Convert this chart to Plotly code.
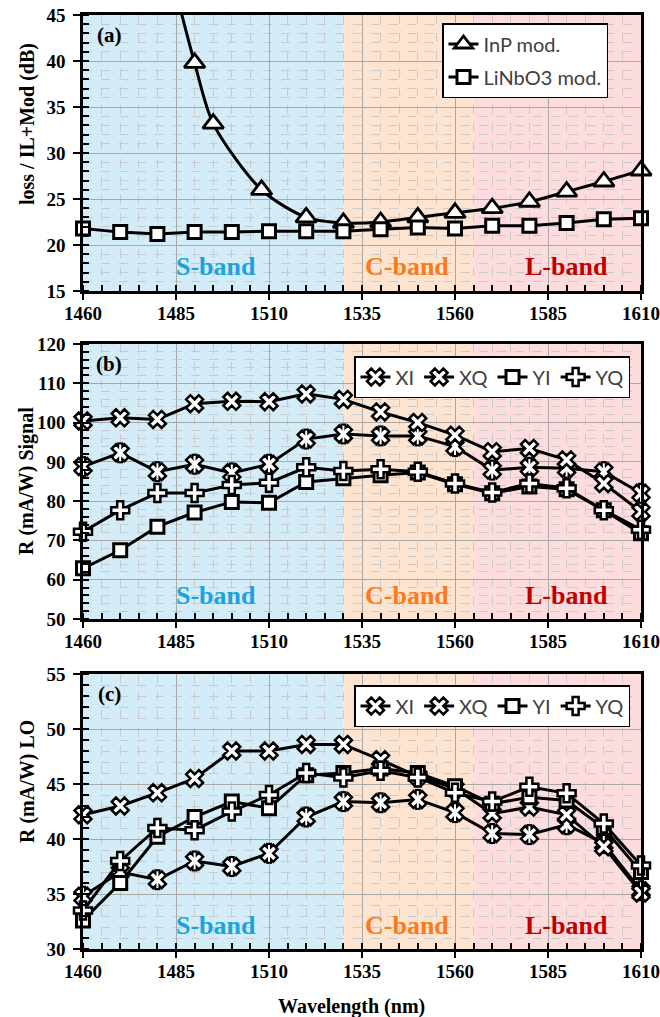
import plotly.graph_objects as go

# ---------------- data ----------------
wl = [1460, 1470, 1480, 1490, 1500, 1510, 1520, 1530, 1540, 1550, 1560, 1570, 1580, 1590, 1600, 1610]

# panel (a)
inp_wl = [1485, 1490, 1495, 1508, 1520, 1530, 1540, 1550, 1560, 1570, 1580, 1590, 1600, 1610]
inp_loss = [47.5, 39.8, 33.2, 26.0, 23.0, 22.4, 22.5, 23.0, 23.5, 24.0, 24.7, 25.8, 26.9, 28.1]
linbo3_loss = [21.8, 21.4, 21.2, 21.4, 21.4, 21.5, 21.5, 21.5, 21.7, 21.9, 21.8, 22.1, 22.1, 22.4, 22.8, 22.9]

# panel (b) signal responsivity
sig_XI = [88.8, 92.3, 87.5, 89.4, 87.2, 89.4, 95.8, 97.1, 96.6, 96.6, 93.9, 87.9, 88.6, 88.4, 87.5, 82.0]
sig_XQ = [100.4, 101.2, 100.8, 104.8, 105.4, 105.3, 107.3, 105.9, 102.7, 100.0, 96.8, 92.6, 93.4, 90.5, 84.5, 77.3]
sig_YI = [62.9, 67.5, 73.5, 77.1, 79.8, 79.6, 84.9, 85.8, 86.6, 87.3, 84.3, 82.0, 83.7, 83.0, 77.7, 71.8]
sig_YQ = [72.2, 77.7, 82.1, 82.1, 84.1, 84.7, 88.6, 87.7, 88.1, 87.5, 84.5, 82.2, 84.5, 83.3, 77.7, 72.7]

# panel (c) LO responsivity
lo_XI = [34.8, 37.0, 36.3, 38.0, 37.5, 38.7, 42.0, 43.4, 43.3, 43.6, 42.4, 40.5, 40.4, 41.3, 39.6, 35.3]
lo_XQ = [42.2, 43.0, 44.2, 45.5, 48.0, 48.0, 48.6, 48.6, 47.2, 45.7, 44.6, 42.3, 42.9, 42.2, 39.3, 35.1]
lo_YI = [32.6, 36.0, 40.2, 42.0, 43.4, 42.8, 45.8, 46.0, 46.4, 46.0, 44.8, 43.2, 43.8, 43.5, 41.0, 37.0]
lo_YQ = [33.5, 38.0, 41.0, 40.8, 42.5, 44.0, 46.0, 45.6, 46.2, 45.6, 44.2, 43.4, 44.75, 44.15, 41.4, 37.6]

x_ticks = [1460, 1485, 1510, 1535, 1560, 1585, 1610]
bands = [("S-band", 1460, 1530, "#d4ecf8", "#1aa3dd", 1495.8),
         ("C-band", 1530, 1565, "#fde4d0", "#fb7a1c", 1547),
         ("L-band", 1565, 1610, "#fcdcdc", "#c00000", 1590)]

# ---------------- layout geometry ----------------
W, H = 660, 1017
X0, X1 = 83, 641
panels = [  # (top px, bottom px, ymin, ymax, major, minor, ytitle, title_center_px, label)
    (15, 291, 15, 45, 5, 1, "loss / IL+Mod (dB)", 124, "(a)"),
    (344, 619, 50, 120, 10, 2, "R (mA/W) Signal", 481, "(b)"),
    (674, 949, 30, 55, 5, 1, "R (mA/W) LO", 782, "(c)"),
]

SERIF = "Liberation Serif"
SANS = "Lato"

fig = go.Figure()

def px_y(p):
    return 1 - p / H

layout = dict(
    width=W, height=H, margin=dict(l=0, r=0, t=0, b=0, autoexpand=False),
    paper_bgcolor="white", plot_bgcolor="white", showlegend=True,
)
annotations = []
shapes = []

for i, (top, bot, ymin, ymax, major, minor, ytitle, tcy, lab) in enumerate(panels):
    n = "" if i == 0 else str(i + 1)
    xa = dict(
        domain=[X0 / W, X1 / W], anchor="y" + n, range=[1460, 1610], automargin=False,
        tickmode="array", tickvals=x_ticks, ticks="outside", ticklen=6, tickwidth=2, tickcolor="black",
        showline=True, linecolor="black", linewidth=2.5, mirror=True,
        showgrid=True, gridcolor="#a8a8a8", gridwidth=1,
        minor=dict(dtick=5, tick0=1460, ticks="inside", ticklen=6, tickwidth=1.5, tickcolor="black",
                   showgrid=True, gridcolor="#c9c9c9", griddash="dash", gridwidth=1),
        tickfont=dict(family=SERIF, size=19, color="black", weight="bold"),
        ticklabelstandoff=-3, zeroline=False,
    )
    ya = dict(
        domain=[px_y(bot), px_y(top)], anchor="x" + n, range=[ymin, ymax], automargin=False,
        tick0=ymin, dtick=major, ticks="outside", ticklen=7, tickwidth=2, tickcolor="black",
        showline=True, linecolor="black", linewidth=2.5, mirror=True,
        showgrid=True, gridcolor="#a8a8a8", gridwidth=1,
        minor=dict(dtick=minor, tick0=ymin, ticks="inside", ticklen=6, tickwidth=1.5, tickcolor="black",
                   showgrid=True, gridcolor="#c9c9c9", griddash="dash", gridwidth=1),
        tickfont=dict(family=SERIF, size=19, color="black", weight="bold"),
        ticklabelstandoff=4, zeroline=False,
    )
    layout["xaxis" + n] = xa
    layout["yaxis" + n] = ya
    for (bname, b0, b1, fillc, txtc, bx) in bands:
        shapes.append(dict(type="rect", xref="x" + n, yref="y" + n + " domain", x0=b0, x1=b1,
                           y0=0, y1=1, fillcolor=fillc, line=dict(width=0), layer="below"))
        annotations.append(dict(xref="x" + n, yref="y" + n + " domain", x=bx, y=0.087, text="<b>" + bname + "</b>",
                                showarrow=False, font=dict(family=SERIF, size=26, color=txtc),
                                xanchor="center", yanchor="middle"))
    annotations.append(dict(xref="paper", yref="paper", x=27 / W, y=px_y(tcy), text="<b>" + ytitle + "</b>",
                            textangle=-90, showarrow=False, font=dict(family=SERIF, size=20, color="black"),
                            xanchor="center", yanchor="middle"))
    annotations.append(dict(xref="paper", yref="paper", x=109 / W, y=px_y(top + 20), text="<b>" + lab + "</b>",
                            showarrow=False, font=dict(family=SERIF, size=21, color="black"),
                            xanchor="center", yanchor="middle"))

annotations.append(dict(xref="paper", yref="paper", x=351 / W, y=px_y(1006), text="<b>Wavelength (nm)</b>",
                        showarrow=False, font=dict(family=SERIF, size=20, color="black"),
                        xanchor="center", yanchor="middle"))

LINE = dict(color="black", width=3)

def marker(sym, size=14, lw=2.5):
    return dict(symbol=sym, size=size, color="white", opacity=1, line=dict(color="black", width=lw))

# panel (a)
inp_marker = marker("triangle-up", 18, 2.8)
inp_marker["size"] = [0] + [18] * (len(inp_wl) - 1)
fig.add_trace(go.Scatter(x=inp_wl, y=inp_loss, name="InP mod.", mode="lines+markers",
                         line=dict(color="black", width=3, shape="spline", smoothing=0.8),
                         marker=inp_marker, cliponaxis=False, xaxis="x", yaxis="y", legend="legend",
                         legendgroup="a1"))
fig.add_trace(go.Scatter(x=wl, y=linbo3_loss, name="LiNbO3 mod.", mode="lines+markers", line=LINE,
                         marker=marker("square", 13, 3), cliponaxis=False, xaxis="x", yaxis="y",
                         legend="legend", legendgroup="a2"))

def add_four(n, leg, XI, XQ, YI, YQ):
    xa, ya = "x" + n, "y" + n
    # XI: star-like marker built from layered symbols
    fig.add_trace(go.Scatter(x=wl, y=XI, mode="markers", showlegend=False, hoverinfo="skip", cliponaxis=False,
                             marker=dict(symbol="line-ns-open", size=15, color="black",
                                         line=dict(color="black", width=6)),
                             xaxis=xa, yaxis=ya, legend=leg))
    fig.add_trace(go.Scatter(x=wl, y=XI, name="XI", mode="lines+markers", line=LINE, cliponaxis=False,
                             marker=marker("x", 15, 2.5), xaxis=xa, yaxis=ya, legend=leg))
    fig.add_trace(go.Scatter(x=wl, y=XI, mode="markers", showlegend=False, hoverinfo="skip", cliponaxis=False,
                             marker=dict(symbol="line-ns-open", size=12, color="white",
                                         line=dict(color="white", width=2)),
                             xaxis=xa, yaxis=ya, legend=leg))
    fig.add_trace(go.Scatter(x=wl, y=XQ, name="XQ", mode="lines+markers", line=LINE, cliponaxis=False,
                             marker=marker("x", 15, 2.5), xaxis=xa, yaxis=ya, legend=leg))
    fig.add_trace(go.Scatter(x=wl, y=YI, name="YI", mode="lines+markers", line=LINE, cliponaxis=False,
                             marker=marker("square", 13, 3), xaxis=xa, yaxis=ya, legend=leg))
    fig.add_trace(go.Scatter(x=wl, y=YQ, name="YQ", mode="lines+markers", line=LINE, cliponaxis=False,
                             marker=marker("cross", 15, 2.5), xaxis=xa, yaxis=ya, legend=leg))

add_four("2", "legend2", sig_XI, sig_XQ, sig_YI, sig_YQ)
add_four("3", "legend3", lo_XI, lo_XQ, lo_YI, lo_YQ)

leg_font = dict(family=SANS, size=20, color="#404040")
layout["legend"] = dict(x=442 / W, y=px_y(23), xanchor="left", yanchor="top", orientation="v",
                        bgcolor="white", bordercolor="black", borderwidth=1.5, font=leg_font,
                        tracegroupgap=4, traceorder="grouped", itemwidth=30)
for key, top in (("legend2", 356), ("legend3", 685)):
    layout[key] = dict(x=354 / W, y=px_y(top), xanchor="left", yanchor="top", orientation="h",
                       bgcolor="white", bordercolor="black", borderwidth=1.5, font=leg_font, itemwidth=30)

layout["annotations"] = annotations
layout["shapes"] = shapes
fig.update_layout(**layout)

fig.write_html("out.html")
